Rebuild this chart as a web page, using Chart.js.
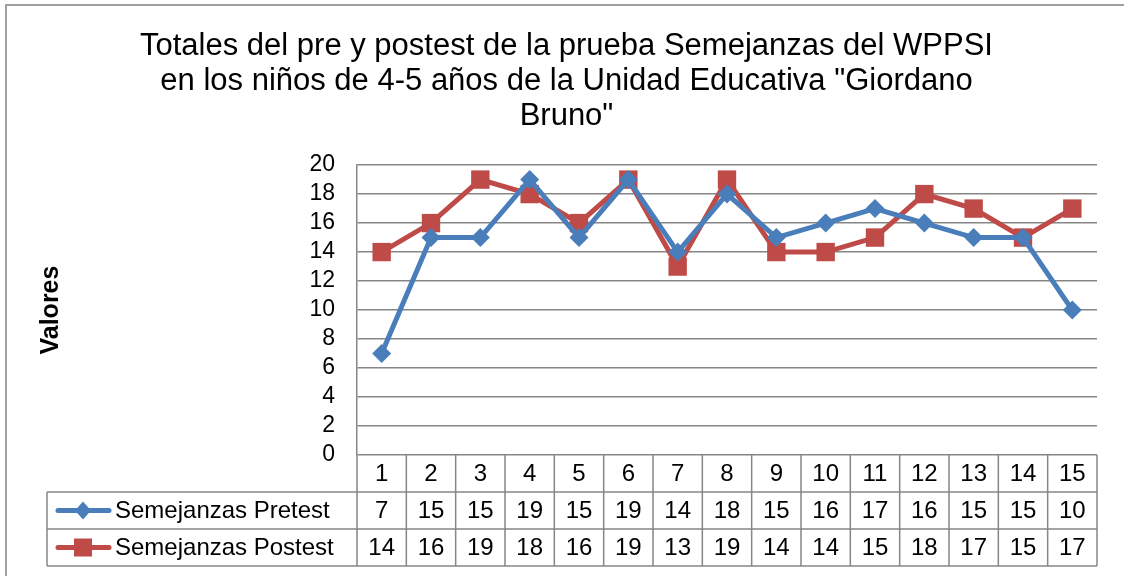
<!DOCTYPE html>
<html>
<head>
<meta charset="utf-8">
<script src="https://cdn.jsdelivr.net/npm/chart.js@4"></script>
<style>
  html, body { margin: 0; padding: 0; background: #fff; }
  #wrap { width: 1124px; height: 576px; }
</style>
</head>
<body>
<div id="wrap"><canvas id="chart" width="1124" height="576"></canvas></div>
<script>
const categories = ['1','2','3','4','5','6','7','8','9','10','11','12','13','14','15'];
const pretest  = [7, 15, 15, 19, 15, 19, 14, 18, 15, 16, 17, 16, 15, 15, 10];
const postest  = [14, 16, 19, 18, 16, 19, 13, 19, 14, 14, 15, 18, 17, 15, 17];
const seriesNames = ['Semejanzas Pretest', 'Semejanzas Postest'];
const titleLines = [
  'Totales del pre y postest de la prueba Semejanzas del WPPSI',
  'en los niños de 4-5 años de la Unidad Educativa "Giordano',
  'Bruno"'
];

const BLUE = '#4a7ebb';
const RED = '#be4b48';
const GRID = '#868686';
const FONT = '"Liberation Sans", Arial, sans-serif';

// Frame + data table under the plot, columns follow the x scale
const tablePlugin = {
  id: 'dataTable',
  beforeDraw(chart) {
    const ctx = chart.ctx;
    ctx.save();
    ctx.strokeStyle = '#a0a0a0';
    ctx.lineWidth = 2;
    ctx.beginPath();
    ctx.moveTo(6, 600);
    ctx.lineTo(6, 5);
    ctx.lineTo(1124, 5);
    ctx.stroke();
    ctx.restore();
  },
  afterDraw(chart) {
    const { ctx, chartArea, scales } = chart;
    const x = scales.x;
    const rowH = 37;
    const top = chartArea.bottom;
    const legLeft = 47;
    const half = (x.getPixelForValue(1) - x.getPixelForValue(0)) / 2;
    const cols = categories.map((c, i) => x.getPixelForValue(i));
    const datasets = chart.data.datasets;

    ctx.save();
    ctx.strokeStyle = GRID;
    ctx.lineWidth = 1.5;
    ctx.beginPath();
    ctx.moveTo(chartArea.left, top + rowH); ctx.lineTo(chartArea.right, top + rowH);
    for (let r = 1; r <= 3; r++) {
      ctx.moveTo(legLeft, top + rowH * r);
      ctx.lineTo(chartArea.right, top + rowH * r);
    }
    ctx.moveTo(legLeft, top + rowH); ctx.lineTo(legLeft, top + rowH * 3);
    ctx.moveTo(chartArea.left, top); ctx.lineTo(chartArea.left, top + rowH * 3);
    cols.forEach(cx => {
      ctx.moveTo(cx + half, top);
      ctx.lineTo(cx + half, top + rowH * 3);
    });
    ctx.stroke();

    ctx.fillStyle = '#000';
    ctx.font = '24px ' + FONT;
    ctx.textAlign = 'center';
    ctx.textBaseline = 'middle';
    cols.forEach((cx, i) => {
      ctx.fillText(categories[i], cx, top + rowH * 0.5 + 1);
      datasets.forEach((ds, d) => {
        ctx.fillText(String(ds.data[i]), cx, top + rowH * (1.5 + d) + 1);
      });
    });

    // legend keys
    datasets.forEach((ds, d) => {
      const cy = top + rowH * (1.5 + d);
      ctx.strokeStyle = ds.borderColor;
      ctx.lineWidth = 5;
      ctx.lineCap = 'round';
      ctx.beginPath();
      ctx.moveTo(58, cy); ctx.lineTo(109, cy);
      ctx.stroke();
      ctx.fillStyle = ds.borderColor;
      ctx.beginPath();
      if (d === 0) {
        ctx.moveTo(83, cy - 9); ctx.lineTo(91, cy); ctx.lineTo(83, cy + 9); ctx.lineTo(75, cy);
        ctx.closePath();
      } else {
        ctx.rect(74, cy - 9, 18, 18);
      }
      ctx.fill();
      ctx.fillStyle = '#000';
      ctx.textAlign = 'left';
      ctx.fillText(ds.label, 115, cy + 1);
    });
    ctx.restore();
  }
};

new Chart(document.getElementById('chart'), {
  type: 'line',
  plugins: [tablePlugin],
  data: {
    labels: categories,
    datasets: [
      {
        label: seriesNames[0],
        data: pretest,
        borderColor: BLUE,
        backgroundColor: BLUE,
        borderWidth: 5,
        pointStyle: 'rectRot',
        pointRadius: 9.5,
        pointBorderWidth: 0,
        tension: 0
      },
      {
        label: seriesNames[1],
        data: postest,
        borderColor: RED,
        backgroundColor: RED,
        borderWidth: 5,
        pointStyle: 'rect',
        pointRadius: 13,
        pointBorderWidth: 0,
        tension: 0
      }
    ]
  },
  options: {
    responsive: false,
    animation: false,
    layout: { padding: { left: 36, right: 27, top: 0, bottom: 121 } },
    plugins: {
      legend: { display: false },
      tooltip: { enabled: false },
      title: {
        display: true,
        text: titleLines,
        color: '#000',
        font: { family: FONT, size: 31, weight: 'normal', lineHeight: 1.13 },
        padding: { top: 29, bottom: 31 }
      }
    },
    scales: {
      x: {
        display: false,
        offset: true
      },
      y: {
        min: 0,
        max: 20,
        ticks: {
          stepSize: 2,
          autoSkip: false,
          color: '#000',
          padding: 22,
          font: { family: FONT, size: 23 }
        },
        grid: { color: GRID, lineWidth: 1.5, drawTicks: false },
        border: { color: GRID, width: 1.5 },
        title: {
          display: true,
          text: 'Valores',
          color: '#000',
          font: { family: FONT, size: 25, weight: 'bold' },
          padding: 0
        },
        afterFit(scale) { scale.width = 321; }
      }
    }
  }
});
</script>
</body>
</html>
